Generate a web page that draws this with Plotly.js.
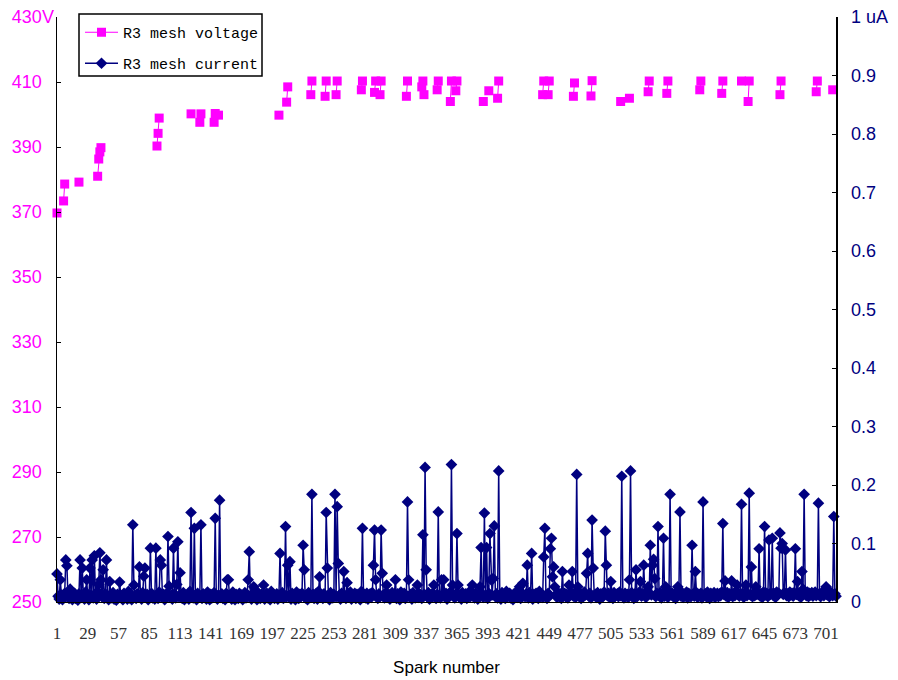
<!DOCTYPE html>
<html>
<head>
<meta charset="utf-8">
<script src="https://cdn.plot.ly/plotly-3.0.1.min.js"></script>
<style>html,body{margin:0;padding:0;background:#fff;}#chart{width:898px;height:680px;}</style>
</head>
<body>
<div id="chart"></div>
<script>
// Spark numbers 1..710 (category axis)
var sparkCount = 710;
var xTickVals = [1,29,57,85,113,141,169,197,225,253,281,309,337,365,393,421,449,477,505,533,561,589,617,645,673,701];
var leftTickVals = [250,270,290,310,330,350,370,390,410,430];
var leftTickText = ["250","270","290","310","330","350","370","390","410","430"];
var rightTickVals = [0,0.1,0.2,0.3,0.4,0.5,0.6,0.7,0.8,0.9,1];
var rightTickText = ["0","0.1","0.2","0.3","0.4","0.5","0.6","0.7","0.8","0.9","1 uA"];

// R3 mesh voltage: measured only at these spark numbers
var voltSpark = [1,7,8,21,38,39,40,41,92,93,94,123,131,132,144,145,148,203,210,211,232,233,245,246,255,256,278,279,290,291,295,296,319,320,333,334,335,347,348,359,360,364,365,389,394,402,403,443,444,448,449,471,472,487,488,514,522,539,540,556,557,586,587,606,607,624,630,631,659,660,692,693,707];
var voltValue = [369.7,373.4,378.6,379.2,381,386.3,388.5,389.8,390.3,394.2,398.9,400.2,397.6,400.2,397.6,400.3,399.8,399.8,403.8,408.5,406.1,410.3,405.6,410.3,406.1,410.3,407.6,410.3,406.8,410.3,406.1,410.3,405.6,410.3,408.5,410.3,406.1,407.6,410.3,404,410.3,407.3,410.3,404,407.3,405,410.3,406.1,410.3,406.1,410.3,405.6,409.7,405.7,410.4,404,405,407,410.3,406.5,410.3,407.6,410.3,406.5,410.3,410.3,404,410.3,406.1,410.3,407,410.3,407.6];

// R3 mesh current (uA), spark 1..710
var current = [
0.048,0.01,0.005,0.038,0.012,0.004,0.008,0.015,0.072,0.062,
0.01,0.006,0.022,0.012,0.004,0.009,0.015,0.006,0.011,0.003,
0.014,0.072,0.008,0.058,0.012,0.005,0.017,0.038,0.009,0.004,
0.058,0.012,0.072,0.007,0.079,0.013,0.005,0.018,0.03,0.084,
0.038,0.009,0.055,0.006,0.014,0.072,0.011,0.004,0.035,0.012,
0.007,0.016,0.005,0.01,0.003,0.013,0.008,0.034,0.012,0.006,
0.004,0.015,0.009,0.012,0.005,0.018,0.007,0.011,0.004,0.132,
0.029,0.01,0.006,0.014,0.009,0.06,0.012,0.005,0.016,0.044,
0.058,0.008,0.013,0.004,0.011,0.092,0.015,0.007,0.01,0.005,
0.092,0.012,0.006,0.017,0.072,0.063,0.009,0.013,0.004,0.011,
0.015,0.112,0.027,0.008,0.012,0.005,0.092,0.014,0.007,0.03,
0.103,0.009,0.05,0.012,0.006,0.016,0.004,0.011,0.008,0.013,
0.005,0.018,0.153,0.01,0.007,0.126,0.012,0.004,0.015,0.009,
0.011,0.132,0.006,0.014,0.008,0.012,0.005,0.017,0.009,0.004,
0.013,0.007,0.011,0.016,0.143,0.009,0.005,0.012,0.174,0.008,
0.014,0.006,0.011,0.004,0.015,0.038,0.038,0.009,0.012,0.005,
0.017,0.008,0.004,0.013,0.01,0.006,0.015,0.009,0.012,0.004,
0.011,0.016,0.007,0.013,0.038,0.086,0.009,0.005,0.014,0.026,
0.008,0.012,0.004,0.016,0.01,0.006,0.013,0.009,0.029,0.005,
0.012,0.015,0.007,0.011,0.004,0.018,0.009,0.013,0.006,0.01,
0.014,0.005,0.012,0.083,0.008,0.016,0.006,0.011,0.129,0.009,
0.063,0.012,0.069,0.005,0.015,0.008,0.011,0.004,0.017,0.01,
0.006,0.013,0.009,0.015,0.097,0.055,0.007,0.012,0.004,0.016,
0.01,0.008,0.184,0.013,0.006,0.011,0.015,0.005,0.018,0.043,
0.009,0.012,0.006,0.014,0.008,0.153,0.058,0.011,0.004,0.016,
0.01,0.007,0.013,0.184,0.009,0.163,0.066,0.012,0.005,0.015,
0.008,0.052,0.011,0.006,0.033,0.014,0.009,0.017,0.005,0.012,
0.01,0.015,0.006,0.013,0.008,0.011,0.004,0.018,0.126,0.009,
0.012,0.007,0.015,0.005,0.011,0.014,0.008,0.016,0.063,0.123,
0.038,0.011,0.006,0.014,0.009,0.123,0.049,0.012,0.007,0.015,
0.029,0.008,0.013,0.005,0.011,0.016,0.009,0.012,0.038,0.006,
0.014,0.01,0.004,0.017,0.008,0.012,0.015,0.006,0.011,0.171,
0.038,0.009,0.013,0.005,0.016,0.01,0.007,0.012,0.029,0.008,
0.014,0.011,0.006,0.115,0.013,0.23,0.055,0.009,0.016,0.005,
0.012,0.008,0.015,0.029,0.01,0.006,0.013,0.154,0.011,0.007,
0.038,0.012,0.038,0.009,0.015,0.005,0.013,0.01,0.017,0.235,
0.029,0.011,0.007,0.014,0.117,0.029,0.009,0.013,0.005,0.016,
0.01,0.008,0.014,0.006,0.012,0.017,0.009,0.011,0.029,0.013,
0.007,0.015,0.01,0.005,0.012,0.026,0.093,0.014,0.008,0.152,
0.011,0.093,0.006,0.015,0.117,0.038,0.012,0.04,0.13,0.009,
0.014,0.007,0.224,0.012,0.005,0.016,0.01,0.013,0.006,0.018,
0.009,0.012,0.015,0.007,0.011,0.004,0.014,0.01,0.017,0.008,
0.012,0.026,0.006,0.015,0.032,0.011,0.009,0.014,0.063,0.007,
0.016,0.012,0.083,0.005,0.013,0.009,0.015,0.011,0.006,0.018,
0.01,0.013,0.008,0.077,0.126,0.012,0.006,0.015,0.011,0.091,
0.109,0.043,0.06,0.026,0.012,0.008,0.016,0.01,0.014,0.006,
0.052,0.011,0.015,0.009,0.013,0.007,0.029,0.012,0.016,0.052,
0.01,0.014,0.008,0.218,0.026,0.011,0.015,0.006,0.013,0.009,
0.017,0.012,0.049,0.083,0.01,0.015,0.007,0.14,0.058,0.011,
0.013,0.008,0.016,0.01,0.005,0.014,0.012,0.009,0.017,0.121,
0.063,0.011,0.015,0.008,0.035,0.013,0.006,0.016,0.01,0.012,
0.014,0.009,0.017,0.011,0.215,0.012,0.007,0.015,0.01,0.013,
0.008,0.038,0.224,0.016,0.011,0.006,0.014,0.055,0.009,0.013,
0.017,0.035,0.01,0.012,0.063,0.015,0.008,0.011,0.026,0.014,
0.097,0.012,0.063,0.073,0.04,0.009,0.015,0.129,0.011,0.016,
0.007,0.013,0.109,0.01,0.026,0.014,0.008,0.017,0.184,0.012,
0.015,0.009,0.013,0.006,0.011,0.026,0.014,0.154,0.01,0.016,
0.008,0.013,0.011,0.017,0.007,0.015,0.012,0.009,0.097,0.014,
0.01,0.052,0.016,0.008,0.013,0.011,0.015,0.007,0.171,0.012,
0.014,0.009,0.017,0.011,0.006,0.015,0.013,0.01,0.016,0.008,
0.012,0.015,0.009,0.014,0.011,0.017,0.134,0.013,0.036,0.01,
0.016,0.008,0.014,0.012,0.036,0.009,0.015,0.011,0.017,0.029,
0.013,0.01,0.015,0.167,0.012,0.008,0.016,0.029,0.011,0.014,
0.186,0.012,0.06,0.009,0.015,0.011,0.026,0.013,0.016,0.091,
0.01,0.014,0.008,0.017,0.129,0.012,0.015,0.009,0.106,0.013,
0.016,0.109,0.011,0.014,0.008,0.017,0.012,0.015,0.118,0.092,
0.1,0.013,0.016,0.089,0.011,0.014,0.009,0.017,0.012,0.015,
0.01,0.016,0.091,0.013,0.035,0.011,0.015,0.008,0.052,0.022,
0.184,0.014,0.011,0.017,0.009,0.015,0.012,0.016,0.01,0.013,
0.017,0.011,0.015,0.169,0.012,0.009,0.016,0.014,0.011,0.018,
0.026,0.012,0.015,0.009,0.017,0.013,0.011,0.146,0.014,0.01
];

// Build full-length series (gaps where voltage not recorded)
var sparks = [];
for (var i = 1; i <= sparkCount; i++) sparks.push(i);
var voltFull = sparks.map(function(){ return null; });
voltSpark.forEach(function(s, k){ voltFull[s - 1] = voltValue[k]; });

var MAG = '#FF00FF', NAVY = '#000080';
var W = 898, H = 680, ML = 57, MR = 62, MT = 17, MB = 78;
var PW = W - ML - MR, PH = H - MT - MB;
function px(x){ return (x - ML) / PW; }
function py(y){ return (H - MB - y) / PH; }
var tickFam = 'Liberation Sans, Arial, sans-serif';

var traces = [
  {x: sparks, y: voltFull, type: 'scatter', mode: 'lines+markers', name: 'R3 mesh voltage',
   yaxis: 'y', connectgaps: false, legend: 'legend', cliponaxis: false,
   line: {color: MAG, width: 1}, marker: {symbol: 'square', size: 9, color: MAG}},
  {x: sparks, y: current, type: 'scatter', mode: 'lines+markers', name: 'R3 mesh current',
   yaxis: 'y2', legend: 'legend2', cliponaxis: false,
   line: {color: NAVY, width: 1.5}, marker: {symbol: 'diamond', size: 9, color: NAVY}}
];

var layout = {
  width: W, height: H,
  margin: {l: ML, r: MR, t: MT, b: MB, pad: 0},
  paper_bgcolor: '#fff', plot_bgcolor: '#fff',
  showlegend: true,
  xaxis: {
    range: [1, sparkCount], tickmode: 'array', tickvals: xTickVals,
    ticks: '', showgrid: false, zeroline: false, showline: true, linecolor: '#000', linewidth: 1,
    tickfont: {family: 'Liberation Serif, serif', size: 17, color: '#333'},
    ticklabelstandoff: 16,
    title: {text: 'Spark number', font: {family: tickFam, size: 17, color: '#000'}, standoff: 18}
  },
  yaxis: {
    range: [250, 430], tickmode: 'array', tickvals: leftTickVals, ticktext: leftTickText,
    ticks: 'inside', ticklen: 4, tickcolor: '#000', showgrid: false, zeroline: false,
    showline: true, linecolor: '#000', linewidth: 1.5,
    ticklabelstandoff: 10,
    tickfont: {family: tickFam, size: 18, color: MAG}
  },
  yaxis2: {
    range: [0, 1], overlaying: 'y', side: 'right', tickmode: 'array', tickvals: rightTickVals, ticktext: rightTickText,
    ticks: 'inside', ticklen: 4, tickcolor: '#000', showgrid: false, zeroline: false,
    showline: true, linecolor: '#000', linewidth: 1.5,
    ticklabelstandoff: 10,
    tickfont: {family: tickFam, size: 18, color: NAVY}
  },
  legend: {x: px(80), y: py(16), xanchor: 'left', yanchor: 'top', bgcolor: 'rgba(0,0,0,0)', borderwidth: 0,
    font: {family: 'Liberation Mono, monospace', size: 15, color: '#000'}, itemwidth: 33},
  legend2: {x: px(80), y: py(47), xanchor: 'left', yanchor: 'top', bgcolor: 'rgba(0,0,0,0)', borderwidth: 0,
    font: {family: 'Liberation Mono, monospace', size: 15, color: '#000'}, itemwidth: 33},
  shapes: [
    {type: 'rect', xref: 'paper', yref: 'paper', x0: px(79), x1: px(262), y0: py(76), y1: py(14),
     line: {color: '#000', width: 1.5}, fillcolor: 'rgba(255,255,255,0)', layer: 'below'}
  ],
  annotations: [
    {xref: 'paper', yref: 'paper', x: px(56), y: py(17), xanchor: 'right', yanchor: 'middle', showarrow: false,
     text: 'V', font: {family: tickFam, size: 18, color: MAG}}
  ]
};

Plotly.newPlot('chart', traces, layout, {staticPlot: true, displayModeBar: false});
</script>
</body>
</html>
